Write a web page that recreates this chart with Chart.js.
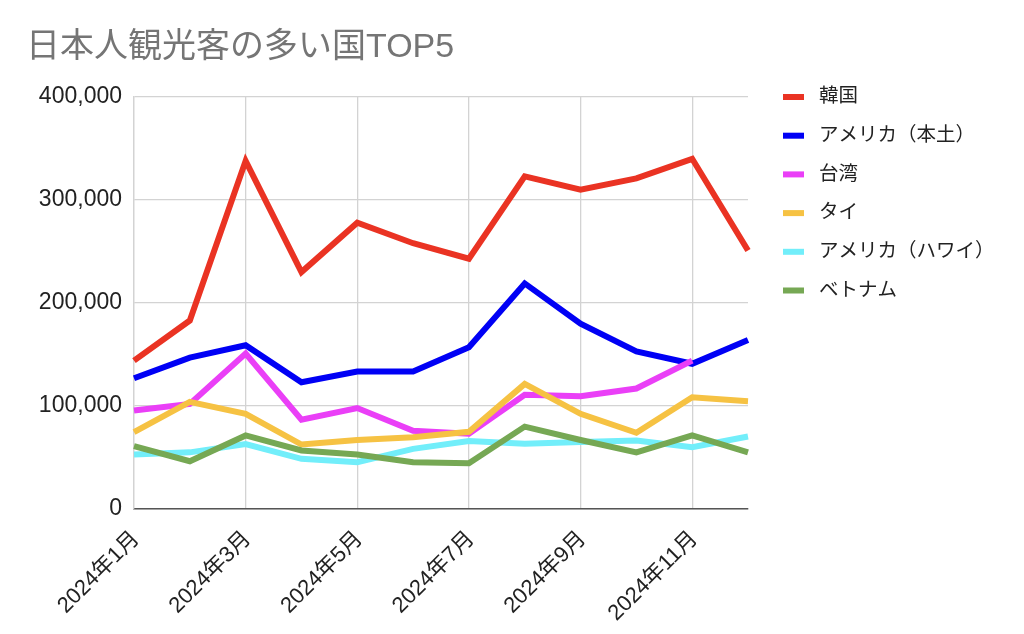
<!DOCTYPE html>
<html>
<head>
<meta charset="utf-8">
<script src="https://cdn.jsdelivr.net/npm/chart.js@4"></script>
<style>
  html, body { margin: 0; padding: 0; background: #fff; }
  #wrap { width: 1024px; height: 634px; position: relative; }
</style>
</head>
<body>
<div id="wrap"><canvas id="chart"></canvas></div>
<script>
const months = ['2024年1月', '2024年2月', '2024年3月', '2024年4月', '2024年5月', '2024年6月',
    '2024年7月', '2024年8月', '2024年9月', '2024年10月', '2024年11月', '2024年12月'];

const seriesNames = ['韓国', 'アメリカ（本土）', '台湾', 'タイ', 'アメリカ（ハワイ）', 'ベトナム'];

const korea = [144000, 183000, 338000, 230000, 278000, 258000, 243000, 323000, 310000, 321000, 340000, 251000];
const usMainland = [127000, 147000, 159000, 123000, 133500, 133500, 157000, 219000, 180000, 153000, 141000, 164000];
const taiwan = [95600, 102000, 151000, 86600, 98000, 76000, 73000, 111000, 109500, 117000, 144000, null];
const thailand = [74600, 104000, 92400, 62600, 67000, 69700, 75000, 121500, 92400, 74000, 108500, 104700];
const hawaii = [53000, 55000, 63000, 48700, 45500, 58400, 66000, 63300, 65000, 66500, 60000, 70400];
const vietnam = [61000, 46400, 71400, 56800, 53000, 45500, 44500, 80000, 67000, 55000, 71400, 55000];

const yTicks = [0, 100000, 200000, 300000, 400000];

const colors = ['#EA3323', '#0000F5', '#EA3FF7', '#F6C243', '#72EEFA', '#76A854'];
const allSeries = [korea, usMainland, taiwan, thailand, hawaii, vietnam];

const fontFamily = "'Liberation Sans', 'Noto Sans CJK JP', sans-serif";
const gridColor = '#d3d3d3';

// 凡例は右側に自前で描く
const sideLegend = {
    id: 'sideLegend',
    afterDraw(chart) {
        const ctx = chart.ctx;
        ctx.save();
        ctx.font = '19.5px ' + fontFamily;
        ctx.textBaseline = 'middle';
        ctx.textAlign = 'left';
        chart.data.datasets.forEach((ds, i) => {
            const y = 97 + i * 38.7;
            ctx.fillStyle = ds.borderColor;
            ctx.fillRect(783, y - 3, 21, 6);
            ctx.fillStyle = '#222';
            ctx.fillText(ds.label, 819, y);
        });
        ctx.restore();
    }
};

new Chart(document.getElementById('chart'), {
    type: 'line',
    data: {
        labels: months,
        datasets: allSeries.map((data, i) => ({
            label: seriesNames[i],
            data: data,
            borderColor: colors[i],
            backgroundColor: colors[i],
            borderWidth: 6,
            borderJoinStyle: 'miter',
            pointRadius: 0,
            tension: 0,
            fill: false,
            order: allSeries.length - i
        }))
    },
    options: {
        responsive: true,
        maintainAspectRatio: false,
        animation: false,
        devicePixelRatio: 1,
        layout: {
            padding: { left: 26, right: 276, top: 0, bottom: 0 }
        },
        plugins: {
            legend: { display: false },
            tooltip: { enabled: false },
            title: {
                display: true,
                text: '日本人観光客の多い国TOP5',
                align: 'start',
                color: '#757575',
                font: { family: fontFamily, size: 34, weight: 'normal', lineHeight: 1.2 },
                padding: { top: 27.6, bottom: 28.6 }
            }
        },
        scales: {
            x: {
                afterFit: (scale) => { scale.height = 125; },
                grid: { color: gridColor, lineWidth: 1.3, drawTicks: false },
                border: { color: '#555', width: 1.5 },
                ticks: {
                    autoSkip: false,
                    minRotation: 45,
                    maxRotation: 45,
                    padding: 17,
                    labelOffset: 2,
                    color: '#222',
                    font: { family: fontFamily, size: 22 },
                    callback: (v, i) => (i % 2 === 0 ? months[i] : null)
                }
            },
            y: {
                min: 0,
                max: 400000,
                afterFit: (scale) => { scale.width = 108; },
                afterBuildTicks: (scale) => { scale.ticks = yTicks.map(v => ({ value: v })); },
                grid: { color: gridColor, lineWidth: 1.3, drawTicks: false },
                border: { color: gridColor, width: 1.3 },
                ticks: {
                    padding: 12,
                    color: '#222',
                    font: { family: fontFamily, size: 23 },
                    callback: (v) => v.toLocaleString('en-US')
                }
            }
        }
    },
    plugins: [sideLegend]
});
</script>
</body>
</html>
